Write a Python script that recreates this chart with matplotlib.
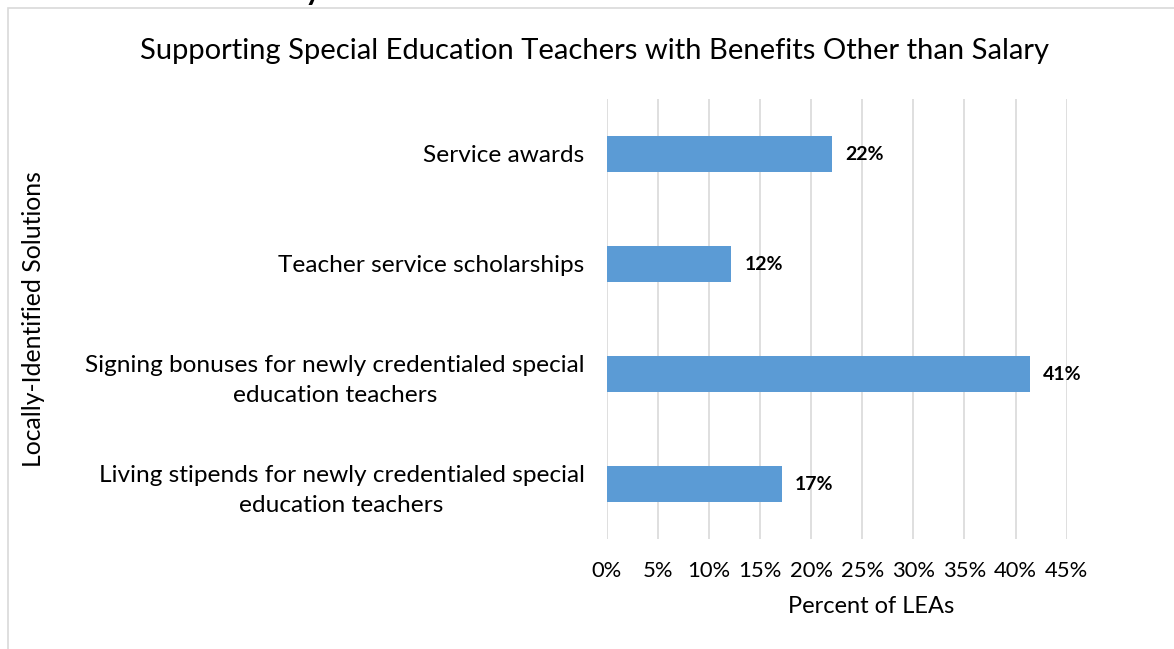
import matplotlib.pyplot as plt
from matplotlib.patches import Rectangle
from matplotlib.ticker import PercentFormatter

# data
categories = [
    'Living stipends for newly credentialed special\neducation teachers',
    'Signing bonuses for newly credentialed special\neducation teachers',
    'Teacher service scholarships',
    'Service awards',
]
values = [0.171, 0.414, 0.122, 0.220]
xticks = [0, 0.05, 0.10, 0.15, 0.20, 0.25, 0.30, 0.35, 0.40, 0.45]

plt.rcParams['font.family'] = ['Lato', 'DejaVu Sans']

W, H = 1174, 649
fig = plt.figure(figsize=(W / 100, H / 100), dpi=100)
ax = fig.add_axes([606.7 / W, 1 - 539 / H, 460 / W, 440 / H])

y = range(len(categories))
ax.barh(y, values, height=0.32, color='#5B9BD5', zorder=3)
for i, v in zip(y, values):
    ax.annotate(f'{v:.0%}', (v, i), xytext=(9.5, 0), textcoords='offset points',
                ha='left', va='center', fontsize=14, fontweight='bold')

ax.set_xlim(0, 0.45)
ax.set_ylim(-0.5, len(categories) - 0.5)
ax.set_xticks(xticks)
ax.xaxis.set_major_formatter(PercentFormatter(1.0, decimals=0))
ax.set_yticks(list(y))
ax.set_yticklabels(categories, multialignment='center', linespacing=1.55)
ax.tick_params(axis='x', length=0, labelsize=15.8, pad=16)
ax.tick_params(axis='y', length=0, labelsize=17.6, pad=16)
ax.grid(axis='x', color='#d9d9d9', linewidth=1.2, zorder=0)
for s in ax.spines.values():
    s.set_visible(False)

ax.set_xlabel('Percent of LEAs', fontsize=17)
ax.xaxis.set_label_coords((871 - 606.7) / 460, -57 / 440)
ax.set_ylabel('Locally-Identified Solutions', fontsize=17.8)
ax.yaxis.set_label_coords((45 - 606.7) / 460, 0.5)

fig.text(594.5 / W, 1 - 51 / H, 'Supporting Special Education Teachers with Benefits Other than Salary',
         ha='center', va='center', fontsize=21)

# chart frame and the cut-off heading above it
fig.add_artist(Rectangle((7.5 / W, -0.1), 1.2, 1 - 7.5 / H + 0.1, transform=fig.transFigure,
                         fill=False, edgecolor='#d9d9d9', linewidth=1.2))
fig.text(305 / W, 1.0, 'y', ha='left', va='baseline', fontsize=22, fontweight='bold')

fig.savefig('out.png', dpi=100)
